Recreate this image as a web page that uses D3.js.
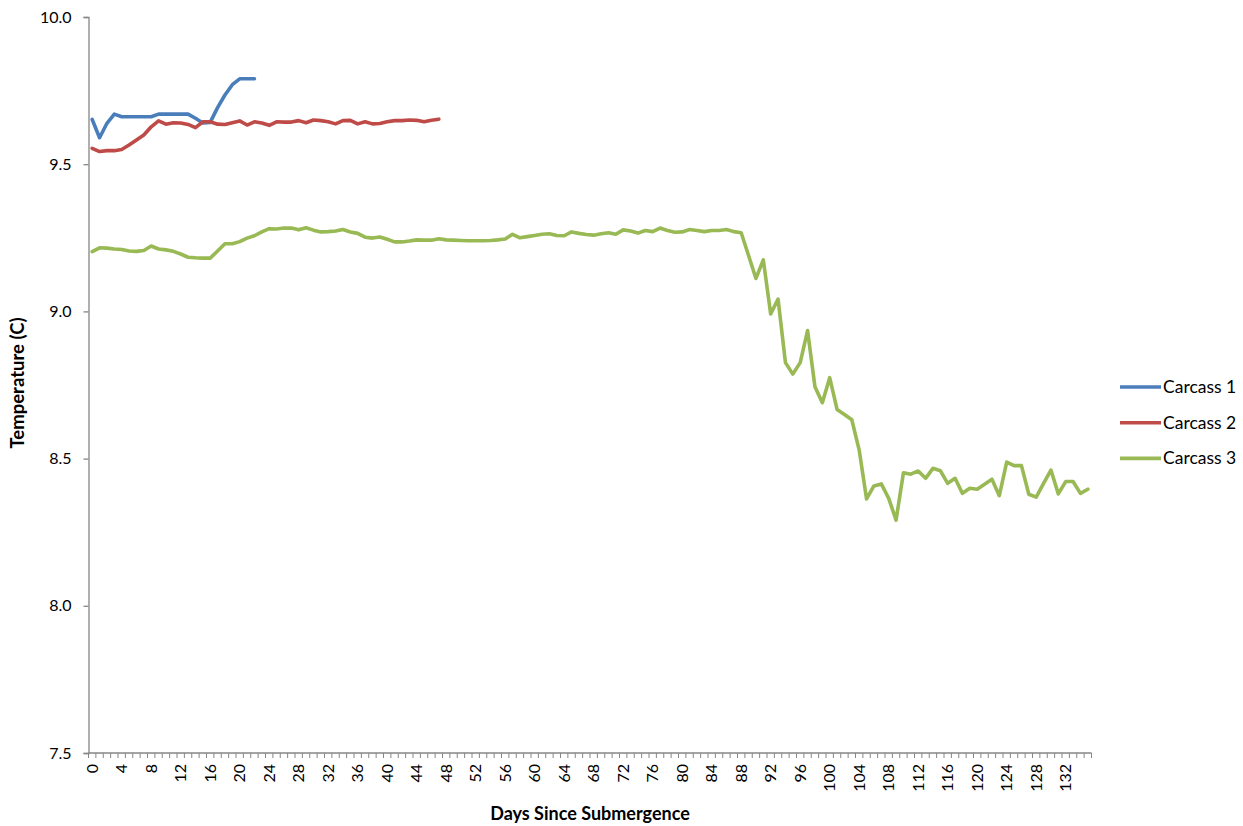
<!DOCTYPE html>
<html><head><meta charset="utf-8">
<script src="https://cdn.jsdelivr.net/npm/d3@7"></script>
<style>body{margin:0;background:#fff;} text{font-family:Lato,"Open Sans",sans-serif;}</style>
</head><body><svg id="c" width="1243" height="826"></svg>
<script>
const seriesNames = ["Carcass 1","Carcass 2","Carcass 3"];
const seriesColors = ["#4A7EBB","#BE4B48","#98B954"];
const days = d3.range(0,136);
const carcass1 = [9.652,9.59,9.639,9.67,9.661,9.661,9.661,9.661,9.661,9.67,9.67,9.67,9.67,9.67,9.656,9.64,9.642,9.692,9.735,9.77,9.79,9.79,9.79];
const carcass2 = [9.554,9.543,9.546,9.546,9.55,9.565,9.582,9.599,9.627,9.647,9.636,9.641,9.64,9.635,9.624,9.644,9.644,9.636,9.635,9.641,9.647,9.633,9.644,9.64,9.632,9.644,9.643,9.643,9.648,9.641,9.65,9.648,9.644,9.637,9.648,9.649,9.637,9.644,9.637,9.638,9.644,9.648,9.648,9.65,9.649,9.644,9.649,9.653];
const carcass3 = [9.203,9.216,9.215,9.212,9.21,9.205,9.204,9.207,9.222,9.212,9.209,9.204,9.195,9.184,9.182,9.181,9.181,9.205,9.23,9.23,9.237,9.249,9.257,9.27,9.281,9.28,9.283,9.283,9.277,9.284,9.276,9.27,9.271,9.273,9.278,9.27,9.265,9.252,9.249,9.253,9.245,9.236,9.236,9.239,9.243,9.242,9.242,9.247,9.243,9.242,9.241,9.24,9.24,9.24,9.241,9.243,9.246,9.262,9.25,9.254,9.258,9.262,9.264,9.258,9.257,9.27,9.265,9.261,9.259,9.264,9.267,9.262,9.277,9.273,9.266,9.275,9.271,9.283,9.275,9.269,9.27,9.278,9.275,9.271,9.275,9.275,9.278,9.271,9.267,9.19,9.112,9.175,8.991,9.042,8.826,8.787,8.826,8.935,8.744,8.69,8.775,8.667,8.65,8.632,8.529,8.363,8.407,8.414,8.365,8.291,8.452,8.447,8.458,8.433,8.467,8.459,8.416,8.433,8.382,8.399,8.396,8.413,8.43,8.374,8.488,8.476,8.476,8.379,8.369,8.416,8.461,8.38,8.422,8.422,8.382,8.396];
const yTicks = [7.5,8.0,8.5,9.0,9.5,10.0];
const xTickLabels = d3.range(0,133,4);

const svg = d3.select("#c");
const pL=88.5, pR=1091.5, pT=17, pB=753;
const x = d3.scaleBand().domain(days).range([pL,pR]).padding(0);
const y = d3.scaleLinear().domain([7.5,10]).range([pB,pT]);
const axisColor="#868686";
const tickFont="16px";

// Y axis
const ya = svg.append("g").attr("transform",`translate(${pL},0)`)
  .call(d3.axisLeft(y).tickValues(yTicks).tickFormat(d3.format(".1f")).tickSize(5).tickPadding(12));
ya.select(".domain").attr("stroke",axisColor).attr("stroke-width",1.3);
ya.selectAll(".tick line").attr("stroke",axisColor).attr("stroke-width",1.3);
ya.selectAll("text").attr("font-size",tickFont).attr("fill","#000").attr("font-family","Lato,'Open Sans',sans-serif");

// X axis line + boundary ticks
const xg = svg.append("g");
xg.append("line").attr("x1",pL).attr("x2",pR).attr("y1",pB).attr("y2",pB).attr("stroke",axisColor).attr("stroke-width",1.3);
const bounds = days.map(d=>x(d)).concat([x(days[days.length-1])+x.bandwidth()]);
xg.selectAll("line.t").data(bounds).enter().append("line").attr("class","t")
  .attr("x1",d=>d).attr("x2",d=>d).attr("y1",pB).attr("y2",pB+5).attr("stroke",axisColor).attr("stroke-width",1);
xg.selectAll("text.xl").data(xTickLabels).enter().append("text").attr("class","xl")
  .attr("transform",d=>`translate(${x(d)+x.bandwidth()/2+5.5},${pB+11}) rotate(-90)`)
  .attr("text-anchor","end").attr("font-size",tickFont).attr("fill","#000").text(d=>d);

// Lines
const line = d3.line().x((d,i)=>x(days[i])+x.bandwidth()/2).y(d=>y(d));
[carcass1,carcass2,carcass3].forEach((s,k)=>{
  svg.append("path").datum(s).attr("d",line).attr("fill","none")
    .attr("stroke",seriesColors[k]).attr("stroke-width",3.6).attr("stroke-linejoin","round").attr("stroke-linecap","round");
});

// Titles
svg.append("text").attr("x",590).attr("y",820).attr("text-anchor","middle").attr("font-size","18px").attr("font-weight","bold").text("Days Since Submergence");
svg.append("text").attr("transform","translate(24,383) rotate(-90)").attr("text-anchor","middle").attr("font-size","18.5px").attr("font-weight","bold").text("Temperature (C)");

// Legend
const lg = svg.append("g");
seriesNames.forEach((n,k)=>{
  const yy = 387 + k*35.7;
  lg.append("line").attr("x1",1120).attr("x2",1161).attr("y1",yy).attr("y2",yy).attr("stroke",seriesColors[k]).attr("stroke-width",3.6);
  lg.append("text").attr("x",1163).attr("y",yy+6).attr("font-size","17.5px").attr("fill","#000").text(n);
});
</script></body></html>
